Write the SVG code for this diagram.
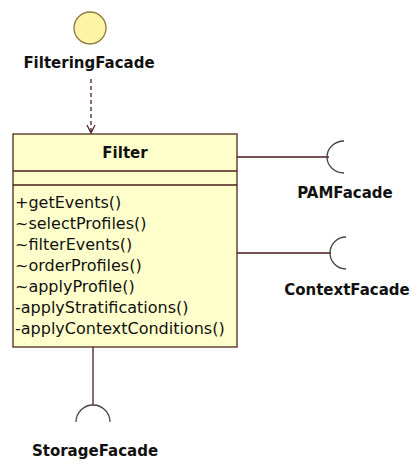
<svg xmlns="http://www.w3.org/2000/svg" width="417" height="466" viewBox="0 0 417 466">
<style>
.lbl{font-family:"DejaVu Sans",Verdana,sans-serif;font-weight:bold;font-size:15px;fill:#111}
.m{font-family:"DejaVu Sans",Verdana,sans-serif;font-size:16px;fill:#111}
.ln{stroke:#4a1c1c;stroke-width:1.3;fill:none}
.sock{stroke:#444;stroke-width:1.3;fill:none}
</style>
<defs>
<marker id="open" markerWidth="10" markerHeight="10" refX="9" refY="5" orient="auto" markerUnits="userSpaceOnUse">
<path d="M1,1 L9,5 L1,9" fill="none" stroke="#4a1c1c" stroke-width="1.2"/>
</marker>
</defs>
<rect width="417" height="466" fill="#fff"/>
<g id="connectors">
<line class="ln" x1="91" y1="79" x2="91" y2="133" stroke-dasharray="4,3" marker-end="url(#open)"/>
<line class="ln" x1="237" y1="157" x2="329" y2="157"/>
<line class="ln" x1="237" y1="253" x2="331" y2="253"/>
<line class="ln" x1="93" y1="347" x2="93" y2="405"/>
</g>
<g id="FilteringFacade">
<circle cx="90" cy="28" r="16" fill="#fff3a6" stroke="#8a7a40" stroke-width="1.3"/>
<text class="lbl" x="89" y="68" text-anchor="middle">FilteringFacade</text>
</g>
<g id="Filter">
<rect x="13" y="134" width="224" height="213" fill="#ffffcc" stroke="#4a2a1a" stroke-width="1.3"/>
<line class="ln" x1="13" y1="171" x2="237" y2="171"/>
<line class="ln" x1="13" y1="185" x2="237" y2="185"/>
<text class="lbl" x="125" y="158" text-anchor="middle">Filter</text>
<text class="m" x="15" y="208">+getEvents()</text>
<text class="m" x="15" y="229">~selectProfiles()</text>
<text class="m" x="15" y="250">~filterEvents()</text>
<text class="m" x="15" y="271">~orderProfiles()</text>
<text class="m" x="15" y="292">~applyProfile()</text>
<text class="m" x="15" y="313">-applyStratifications()</text>
<text class="m" x="15" y="334">-applyContextConditions()</text>
</g>
<g id="PAMFacade">
<path class="sock" d="M344,141 A17,16 0 0 0 344,173"/>
<text class="lbl" x="345" y="198" text-anchor="middle">PAMFacade</text>
</g>
<g id="ContextFacade">
<path class="sock" d="M346,237 A16,16 0 0 0 346,269"/>
<text class="lbl" x="347" y="295" text-anchor="middle">ContextFacade</text>
</g>
<g id="StorageFacade">
<path class="sock" d="M76,422 A17,17 0 0 1 110,422"/>
<text class="lbl" x="95" y="456" text-anchor="middle">StorageFacade</text>
</g>
</svg>
